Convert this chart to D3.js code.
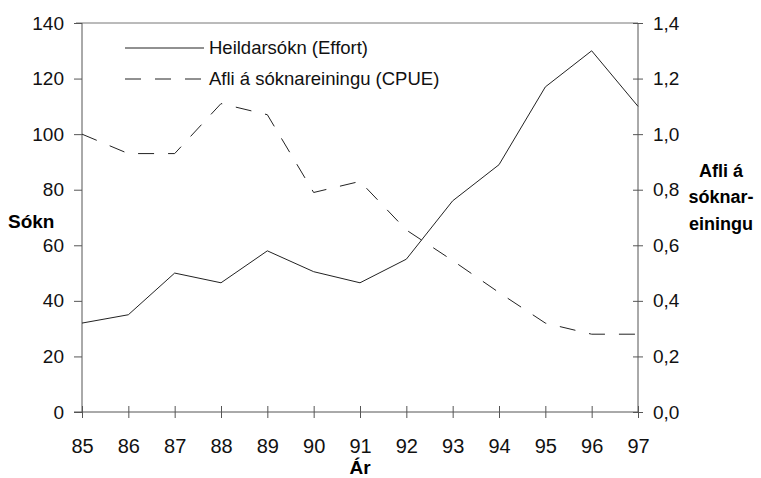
<!DOCTYPE html>
<html>
<head>
<meta charset="utf-8">
<script src="https://cdn.jsdelivr.net/npm/d3@7"></script>
<style>
  body { margin: 0; background: #fff; }
  svg { font-family: Arial, "Liberation Sans", sans-serif; }
</style>
</head>
<body>
<svg id="chart" width="761" height="478"></svg>
<script>
// ár (years)
const years = [85, 86, 87, 88, 89, 90, 91, 92, 93, 94, 95, 96, 97];
// heildarsókn (effort), left axis
const effort = [32, 35, 50, 46.5, 58, 50.5, 46.5, 55, 76, 89, 117, 130, 110];
// afli á sóknareiningu (CPUE), right axis
const cpue = [1.00, 0.93, 0.93, 1.11, 1.07, 0.79, 0.83, 0.655, 0.545, 0.43, 0.32, 0.28, 0.28];
const leftTicks = [0, 20, 40, 60, 80, 100, 120, 140];
const rightTicks = [0, 0.2, 0.4, 0.6, 0.8, 1.0, 1.2, 1.4];

const svg = d3.select("#chart");
const plotL = 82, plotR = 638, plotT = 23, plotB = 412;

const x = d3.scaleLinear().domain([85, 97]).range([plotL, plotR]);
const yL = d3.scaleLinear().domain([0, 140]).range([plotB, plotT]);
const yR = d3.scaleLinear().domain([0, 1.4]).range([plotB, plotT]);

const axisColor = "#555";

// top frame line
svg.append("line")
    .attr("x1", plotL - 6).attr("x2", plotR)
    .attr("y1", plotT).attr("y2", plotT)
    .attr("stroke", "#777").attr("stroke-width", 1);

// left axis
const gL = svg.append("g")
    .attr("transform", `translate(${plotL},0)`)
    .call(d3.axisLeft(yL).tickValues(leftTicks).tickSize(8).tickPadding(10).tickSizeOuter(0));

// right axis, ticks cross the line
const gR = svg.append("g")
    .attr("transform", `translate(${plotR},0)`)
    .call(d3.axisRight(yR).tickValues(rightTicks).tickSize(5).tickPadding(10).tickSizeOuter(0)
        .tickFormat(d => d3.format(".1f")(d).replace(".", ",")));
gR.selectAll(".tick line").attr("x1", -5);

// x axis
const gX = svg.append("g")
    .attr("transform", `translate(0,${plotB})`)
    .call(d3.axisBottom(x).tickValues(years).tickSize(6).tickPadding(21).tickSizeOuter(0));
gX.selectAll(".tick line").attr("y1", -6);

[gL, gR, gX].forEach(g => {
    g.select(".domain").attr("stroke", axisColor);
    g.selectAll(".tick line").attr("stroke", axisColor);
    g.selectAll(".tick text")
        .attr("fill", "#111")
        .style("font-size", "19px");
});
gX.selectAll(".tick text").style("font-size", "20px");
gL.select(".domain").attr("d", `M0,${plotB}V${plotT}`);
gR.select(".domain").attr("d", `M0,${plotB}V${plotT}`);
gX.select(".domain").attr("d", `M${plotL - 8},0H${plotR}`);

// lines
const effortLine = d3.line().x((d, i) => x(years[i])).y(d => yL(d));
const cpueLine = d3.line().x((d, i) => x(years[i])).y(d => yR(d));

svg.append("path")
    .datum(effort)
    .attr("d", effortLine)
    .attr("fill", "none")
    .attr("stroke", "#222")
    .attr("stroke-width", 1);

svg.append("path")
    .datum(cpue)
    .attr("d", cpueLine)
    .attr("fill", "none")
    .attr("stroke", "#222")
    .attr("stroke-width", 1)
    .attr("stroke-dasharray", "16,14");

// legend
const legend = [
    { label: "Heildarsókn (Effort)", dash: null, y: 48 },
    { label: "Afli á sóknareiningu (CPUE)", dash: "16,14", y: 79 }
];
legend.forEach(l => {
    svg.append("line")
        .attr("x1", 125).attr("x2", 204)
        .attr("y1", l.y).attr("y2", l.y)
        .attr("stroke", "#222").attr("stroke-width", 1)
        .attr("stroke-dasharray", l.dash);
    svg.append("text")
        .attr("x", 209).attr("y", l.y)
        .attr("dy", "0.35em")
        .style("font-size", "18.5px")
        .attr("fill", "#111")
        .text(l.label);
});

// axis titles
svg.append("text")
    .attr("x", 8).attr("y", 221)
    .attr("dy", "0.35em")
    .style("font-size", "19px").style("font-weight", "bold")
    .text("Sókn");

svg.append("text")
    .attr("x", 360).attr("y", 467)
    .attr("dy", "0.35em")
    .attr("text-anchor", "middle")
    .style("font-size", "19px").style("font-weight", "bold")
    .text("Ár");

const rightTitle = ["Afli á", "sóknar-", "einingu"];
svg.append("text")
    .attr("x", 721).attr("y", 171)
    .attr("text-anchor", "middle")
    .style("font-size", "18px").style("font-weight", "bold")
    .selectAll("tspan")
    .data(rightTitle)
    .join("tspan")
    .attr("x", 721)
    .attr("dy", (d, i) => i === 0 ? "0.35em" : "1.45em")
    .text(d => d);
</script>
</body>
</html>
